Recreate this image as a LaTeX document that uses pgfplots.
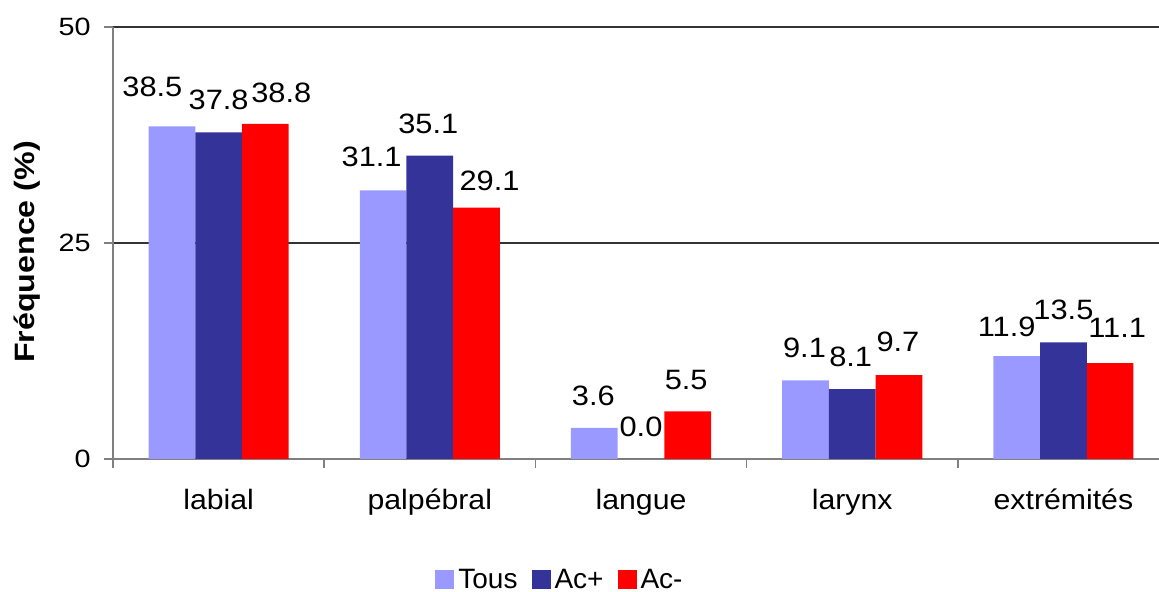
\documentclass[border=0pt]{standalone}
\usepackage{pgfplots}
\pgfplotsset{compat=1.18}
\usepackage{fontspec}
\setmainfont{Liberation Sans}
\newfontfamily\lblfont{Liberation Sans}[FakeStretch=1.1]
\newfontfamily\tickfont{Liberation Sans}[FakeStretch=1.15]
\newfontfamily\catfont{Liberation Sans}[FakeStretch=1.08]
\newfontfamily\ylfont{Liberation Sans}[FakeStretch=1.15]
\definecolor{cTous}{HTML}{9999FF}
\definecolor{cAcp}{HTML}{333399}
\definecolor{cAcm}{HTML}{FF0000}
\definecolor{axgray}{HTML}{808080}
\definecolor{gridc}{HTML}{333333}
\pgfplotstableread{
x y dx dy
0 38.5 -9.75 19.5
1 31.1 -5.75 16.5
2 3.6 -0.5 16
3 9.1 -0.5 16.5
4 11.9 -5 14.5
}\tous
\pgfplotstableread{
x y dx dy
0 37.8 0 16.5
1 35.1 -0.75 16
2 0.0 0 16
3 8.1 -0.75 16
4 13.5 0 16
}\acp
\pgfplotstableread{
x y dx dy
0 38.8 8 15.5
1 29.1 6.5 13.5
2 5.5 -0.75 15.5
3 9.7 -0.5 16.5
4 11.1 3.5 17.5
}\acm
\begin{document}
\begin{tikzpicture}
\useasboundingbox (0,0) rectangle (579.5pt,296pt);
\begin{axis}[
  at={(56.5pt,66.5pt)}, anchor=south west,
  scale only axis, width=528pt, height=216pt,
  xmin=-0.5, xmax=4.5, ymin=0, ymax=50,
  axis x line*=bottom, axis y line*=left,
  axis line style={axgray, line width=0.8pt, -},
  ybar=0pt, bar width=23.35pt,
  xtick={0,1,2,3,4},
  xticklabels={labial,palpébral,langue,larynx,extrémités},
  major x tick style={draw=none},
  minor xtick={-0.5,0.5,1.5,2.5,3.5,4.5},
  minor tick length=4.5pt,
  tick align=outside,
  ytick={0,25,50},
  major tick length=4.5pt,
  tick style={axgray, line width=0.8pt},
  ymajorgrids, grid style={gridc, line width=0.8pt},
  /pgf/number format/assume math mode=true,
  xticklabel style={font=\catfont\fontsize{14pt}{16pt}\selectfont, anchor=base, inner sep=0pt, yshift=-21pt},
  yticklabel style={font=\tickfont\fontsize{12.5pt}{14pt}\selectfont, anchor=east, inner sep=0pt, xshift=-6.5pt},
  ylabel={Fréquence (\%)},
  ylabel style={font=\ylfont\fontsize{14pt}{16pt}\selectfont\bfseries, at={(axis description cs:-0.081,0.479)}, anchor=center},
  nodes near coords={\pgfmathprintnumber[fixed,fixed zerofill,precision=1]{\pgfplotspointmeta}},
  every node near coord/.append style={font=\lblfont\fontsize{14pt}{16pt}\selectfont, anchor=center, inner sep=0pt, xshift=\ldx pt, yshift=\ldy pt, black},
  legend columns=3,
  legend style={at={(axis description cs:0.4242,-0.28)}, anchor=center, draw=none, fill=none,
    font=\fontsize{14pt}{16pt}\selectfont,
    /tikz/every even column/.append style={column sep=5pt}},
  legend image code/.code={\fill[#1] (0pt,-4.75pt) rectangle (9.5pt,4.75pt);},
]
\addplot[fill=cTous, draw=none, visualization depends on={\thisrow{dx} \as \ldx}, visualization depends on={\thisrow{dy} \as \ldy}] table[x=x,y=y] {\tous};
\addplot[fill=cAcp, draw=none, visualization depends on={\thisrow{dx} \as \ldx}, visualization depends on={\thisrow{dy} \as \ldy}] table[x=x,y=y] {\acp};
\addplot[fill=cAcm, draw=none, visualization depends on={\thisrow{dx} \as \ldx}, visualization depends on={\thisrow{dy} \as \ldy}] table[x=x,y=y] {\acm};
\legend{Tous,Ac+,Ac-}
\end{axis}
\end{tikzpicture}
\end{document}
